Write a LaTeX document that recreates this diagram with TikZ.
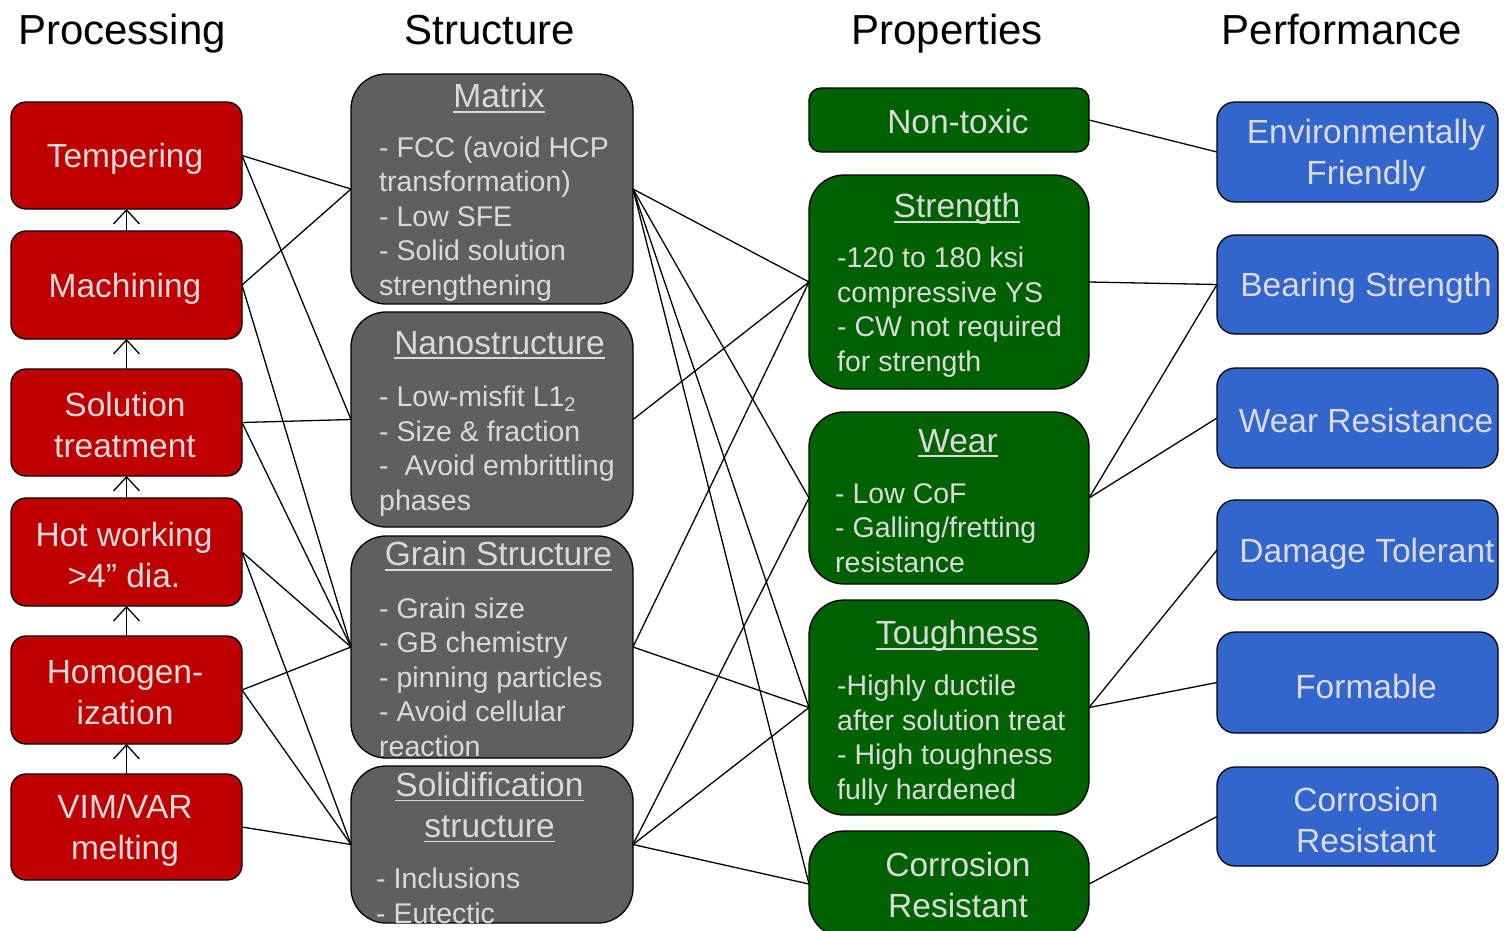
\documentclass[tikz,border=0pt]{standalone}
\usepackage{fontspec}
\setmainfont{Liberation Sans}
\usetikzlibrary{arrows.meta}
\definecolor{redfill}{HTML}{C00000}
\definecolor{grayfill}{HTML}{5F5F5F}
\definecolor{greenfill}{HTML}{006100}
\definecolor{bluefill}{HTML}{3366CC}
\definecolor{txtgray}{HTML}{DADADA}
\newcommand{\fhead}{\fontsize{42}{48}\selectfont}
\newcommand{\fbig}{\fontsize{33.5}{41}\selectfont}
\newcommand{\fbody}{\fontsize{28.5}{34.5}\selectfont}
\newcommand{\ulx}[1]{\setbox0\hbox{#1}\rlap{\rule[-5pt]{\wd0}{1.6pt}}\box0}
\tikzset{
  box/.style={draw=black, line width=1.3pt, inner sep=0pt, outer sep=0pt},
  redbox/.style={box, fill=redfill, rounded corners=15pt, minimum width=231pt},
  graybox/.style={box, fill=grayfill, rounded corners=35pt, minimum width=282pt},
  greenbox/.style={box, fill=greenfill, rounded corners=35pt, minimum width=280pt},
  bluebox/.style={box, fill=bluefill, rounded corners=18pt, minimum width=281pt},
  head/.style={inner sep=0pt, font=\fhead, text=black, anchor=base},
  ttl/.style={inner sep=0pt, font=\fbig, text=txtgray, align=center},
  body/.style={inner sep=0pt, font=\fbody, text=txtgray, align=left, anchor=west},
  conn/.style={draw=black, line width=1.3pt},
  uparrow/.style={draw=black, line width=1.3pt, -{Straight Barb[length=14pt,width=26pt,line width=1.3pt]}}
}
\begin{document}
\begin{tikzpicture}[x=1pt,y=-1pt]
\useasboundingbox (0,0) rectangle (1507,930);
\begin{scope}
\clip (0,0) rectangle (1507,930);
% headers
\node[head] (h1) at (122,44) {Processing};
\node[head] (h2) at (490,44) {Structure};
\node[head] (h3) at (947,44) {Properties};
\node[head] (h4) at (1342,44) {Performance};

% processing boxes
\node[redbox, minimum height=107pt] (temp) at (126.5,155.5) {};
\node[redbox, minimum height=108pt] (mach) at (126.5,285) {};
\node[redbox, minimum height=107pt] (sol) at (126.5,422.5) {};
\node[redbox, minimum height=108pt] (hot) at (126.5,552) {};
\node[redbox, minimum height=108pt] (homo) at (126.5,690) {};
\node[redbox, minimum height=106pt] (vim) at (126.5,827) {};
\node[ttl] (ttemp) at (125,159) {Tempering};
\node[ttl] (tmach) at (125,289) {Machining};
\node[ttl] (tsol) at (125,425) {Solution\\treatment};
\node[ttl] (thot) at (124,555) {Hot working\\>4” dia.};
\node[ttl] (thomo) at (125,693) {Homogen-\\ization};
\node[ttl] (tvim) at (125,830) {VIM/VAR\\melting};

\draw[uparrow] (mach.north) -- (temp.south);
\draw[uparrow] (sol.north) -- (mach.south);
\draw[uparrow] (hot.north) -- (sol.south);
\draw[uparrow] (homo.north) -- (hot.south);
\draw[uparrow] (vim.north) -- (homo.south);

% structure boxes
\node[graybox, minimum height=230pt] (matrix) at (492,189) {};
\node[graybox, minimum height=215pt] (nano) at (492,419.5) {};
\node[graybox, minimum height=222pt] (grain) at (492,647) {};
\node[graybox, minimum height=157pt] (solid) at (492,844.5) {};
\node[ttl] (tmatrix) at (499,98) {\ulx{Matrix}};
\node[body] (bmatrix) at (379,219) {- FCC (avoid HCP\\transformation)\\- Low SFE\\- Solid solution\\strengthening};
\node[ttl] (tnano) at (499.5,345) {\ulx{Nanostructure}};
\node[body] (bnano) at (379,451) {- Low-misfit L1\textsubscript{2}\\- Size \& fraction\\-\ \ Avoid embrittling\\phases};
\node[ttl] (tgrain) at (498.5,556) {\ulx{Grain Structure}};
\node[body] (bgrain) at (379,677) {- Grain size\\- GB chemistry\\- pinning particles\\- Avoid cellular\\reaction};
\node[ttl] (tsolid) at (489.5,807) {\ulx{Solidification}\\\ulx{structure}};
\node[body] (bsolid) at (376,896) {- Inclusions\\- Eutectic};

% properties boxes
\node[greenbox, rounded corners=12pt, minimum height=64pt] (nontox) at (949,120) {};
\node[greenbox, minimum height=214pt] (str) at (949,282) {};
\node[greenbox, minimum height=172pt] (wear) at (949,498) {};
\node[greenbox, minimum height=215pt] (tough) at (949,707.5) {};
\node[greenbox, minimum height=106pt] (corr) at (949,884) {};
\node[ttl] (tnontox) at (958,122) {Non-toxic};
\node[ttl] (tstr) at (957,209) {\ulx{Strength}};
\node[body] (bstr) at (837,312) {-120 to 180 ksi\\compressive YS\\- CW not required\\for strength};
\node[ttl] (twear) at (958,443) {\ulx{Wear}};
\node[body] (bwear) at (835,528) {- Low CoF\\- Galling/fretting\\resistance};
\node[ttl] (ttough) at (957,636) {\ulx{Toughness}};
\node[body] (btough) at (837,740) {-Highly ductile\\after solution treat\\- High toughness\\fully hardened};
\node[ttl] (tcorr) at (958,885) {Corrosion\\Resistant};

% performance boxes
\node[bluebox, minimum height=100pt] (env) at (1357.5,152) {};
\node[bluebox, minimum height=99pt] (bear) at (1357.5,284.5) {};
\node[bluebox, minimum height=100pt] (wres) at (1357.5,418) {};
\node[bluebox, minimum height=100pt] (dam) at (1357.5,550) {};
\node[bluebox, minimum height=101pt] (form) at (1357.5,682.5) {};
\node[bluebox, minimum height=99pt] (cres) at (1357.5,816.5) {};
\node[ttl] (tenv) at (1366,155) {Environmentally\\Friendly};
\node[ttl] (tbear) at (1366,288) {Bearing Strength};
\node[ttl] (twres) at (1366,421) {Wear Resistance};
\node[ttl] (tdam) at (1367,554) {Damage Tolerant};
\node[ttl] (tform) at (1366,687) {Formable};
\node[ttl] (tcres) at (1366,820) {Corrosion\\Resistant};

% connectors processing -> structure
\draw[conn] (temp.east) -- (matrix.west);
\draw[conn] (temp.east) -- (nano.west);
\draw[conn] (mach.east) -- (matrix.west);
\draw[conn] (mach.east) -- (grain.west);
\draw[conn] (sol.east) -- (nano.west);
\draw[conn] (sol.east) -- (grain.west);
\draw[conn] (hot.east) -- (grain.west);
\draw[conn] (hot.east) -- (solid.west);
\draw[conn] (homo.east) -- (grain.west);
\draw[conn] (homo.east) -- (solid.west);
\draw[conn] (vim.east) -- (solid.west);

% structure -> properties
\draw[conn] (matrix.east) -- (str.west);
\draw[conn] (matrix.east) -- (wear.west);
\draw[conn] (matrix.east) -- (tough.west);
\draw[conn] (matrix.east) -- (corr.west);
\draw[conn] (nano.east) -- (str.west);
\draw[conn] (grain.east) -- (str.west);
\draw[conn] (grain.east) -- (tough.west);
\draw[conn] (solid.east) -- (wear.west);
\draw[conn] (solid.east) -- (tough.west);
\draw[conn] (solid.east) -- (corr.west);

% properties -> performance
\draw[conn] (nontox.east) -- (env.west);
\draw[conn] (str.east) -- (bear.west);
\draw[conn] (wear.east) -- (bear.west);
\draw[conn] (wear.east) -- (wres.west);
\draw[conn] (tough.east) -- (dam.west);
\draw[conn] (tough.east) -- (form.west);
\draw[conn] (corr.east) -- (cres.west);
\end{scope}
\end{tikzpicture}
\end{document}
